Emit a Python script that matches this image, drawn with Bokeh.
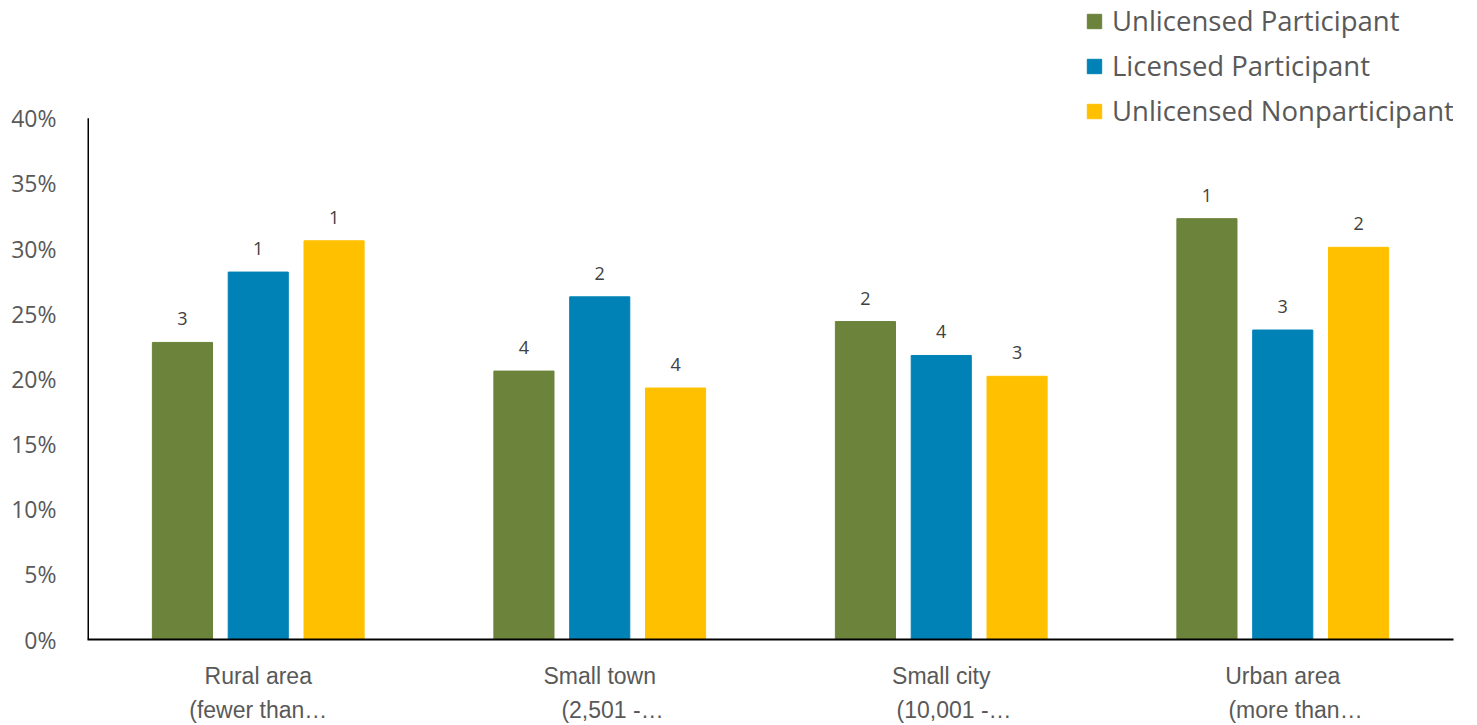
from bokeh.plotting import figure
from bokeh.models import Range1d, FixedTicker, Legend, LegendItem, ColumnDataSource, LabelSet
from bokeh.core.properties import value
from bokeh.embed import file_html
from bokeh.resources import INLINE

NB = "\u00a0"
categories = ["Rural area\n(fewer than…",
              "Small town\n" + NB * 4 + "(2,501 -…",
              "Small city\n" + NB * 4 + "(10,001 -…",
              "Urban area\n" + NB * 4 + "(more than…"]
series_names = ["Unlicensed Participant", "Licensed Participant", "Unlicensed Nonparticipant"]
unlicensed_participant = [22.8, 20.6, 24.4, 32.3]
licensed_participant = [28.2, 26.3, 21.8, 23.75]
unlicensed_nonparticipant = [30.6, 19.3, 20.2, 30.1]
rank_up = ["3", "4", "2", "1"]
rank_lp = ["1", "2", "4", "3"]
rank_un = ["1", "4", "3", "2"]
y_ticks = [0, 5, 10, 15, 20, 25, 30, 35, 40]

colors = ["#6B833A", "#0082B6", "#FFC000"]
series = [unlicensed_participant, licensed_participant, unlicensed_nonparticipant]
ranks = [rank_up, rank_lp, rank_un]
offsets = [-0.222, 0.0, 0.222]
bar_w = 0.176

W, H = 1477, 725
left, right, top, bottom = 87, 24, 0, 85
frame_h = H - top - bottom
y_end = 40 * frame_h / 522.0

p = figure(width=W, height=H, output_backend="svg", toolbar_location=None,
           x_range=Range1d(0, 4), y_range=Range1d(0, y_end),
           min_border_left=left, min_border_right=right,
           min_border_top=top, min_border_bottom=bottom)
p.outline_line_color = None
p.grid.grid_line_color = None
p.background_fill_color = "white"
p.border_fill_color = "white"

# y axis
p.yaxis.ticker = FixedTicker(ticks=y_ticks)
p.yaxis.major_label_overrides = {t: f"{t}%" for t in y_ticks}
p.yaxis.axis_line_color = None
p.yaxis.major_tick_line_color = None
p.yaxis.minor_tick_line_color = None
p.yaxis.major_label_text_font = "Open Sans"
p.yaxis.major_label_text_font_size = "23px"
p.yaxis.major_label_text_color = "#595959"
p.yaxis.major_label_standoff = 25

# x axis
centers = [i + 0.5 for i in range(len(categories))]
p.xaxis.ticker = FixedTicker(ticks=centers)
p.xaxis.major_label_overrides = {c: lab for c, lab in zip(centers, categories)}
p.xaxis.axis_line_color = "black"
p.xaxis.axis_line_width = 2
p.xaxis.major_tick_line_color = None
p.xaxis.minor_tick_line_color = None
p.xaxis.major_label_text_font = "Liberation Sans"
p.xaxis.major_label_text_font_size = "23px"
p.xaxis.major_label_text_color = "#595959"
p.xaxis.major_label_text_line_height = 1.32
p.xaxis.major_label_standoff = 17

# y axis line drawn only to 40%
p.segment(x0=[0], y0=[0], x1=[0], y1=[40], line_color="black", line_width=3)

items = []
for name, vals, col, off, rk in zip(series_names, series, colors, offsets, ranks):
    src = ColumnDataSource(dict(x=[c + off for c in centers], top=vals, lab=rk))
    r = p.vbar(x="x", top="top", width=bar_w, source=src, fill_color=col, line_color=col)
    items.append(LegendItem(label=name, renderers=[r]))
    labels = LabelSet(x="x", y="top", text="lab", source=src, x_offset=0, y_offset=17,
                      text_align="center", text_baseline="bottom",
                      text_font=value("Open Sans"), text_font_size="18px", text_color="#404040")
    p.add_layout(labels)

legend = Legend(items=items, location=(998, 510))
legend.border_line_color = None
legend.background_fill_alpha = 0
legend.label_text_font = "Open Sans"
legend.label_text_font_size = "27.5px"
legend.label_text_color = "#595959"
legend.glyph_width = 18
legend.glyph_height = 18
legend.label_standoff = 9
legend.spacing = 8
legend.padding = 0
legend.margin = 0
p.add_layout(legend)

open("out.html", "w").write(file_html(p, INLINE))
